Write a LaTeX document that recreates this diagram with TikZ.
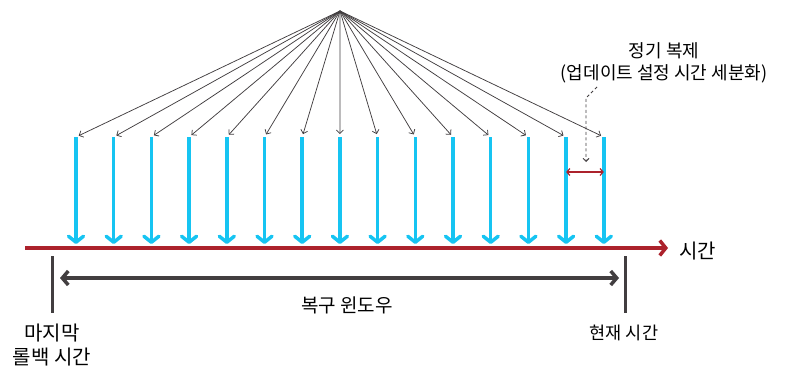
\documentclass[tikz,border=0pt]{standalone}
\usepackage{fontspec}
\setmainfont{Noto Sans CJK KR}
\usetikzlibrary{arrows.meta}
\definecolor{skyblue}{RGB}{22,196,242}
\definecolor{axisred}{RGB}{172,34,44}
\definecolor{inkgray}{RGB}{66,62,64}

\begin{document}
\begin{tikzpicture}[x=1pt,y=-1pt,
  fan/.style={draw=inkgray, line width=0.75pt, shorten >=3pt, -{Straight Barb[length=3.5pt,width=7pt]}},
  push/.style={draw=skyblue, line width=3.5pt, -{Straight Barb[length=6pt,width=15pt,round]}},
  lbl/.style={inner sep=0pt, align=center, font=\fontsize{17.5}{22}\selectfont}]
  \useasboundingbox (0,0) rectangle (786,369);

  % source of the periodic copies
  \coordinate (src) at (340,11);
  \foreach \i in {1,...,15}{
    \coordinate (top\i) at ({76+37.7*(\i-1)},137);
    \coordinate (bot\i) at ({76+37.7*(\i-1)},244);
    \draw[fan] (src) -- (top\i);
    \draw[push] (top\i) -- (bot\i);
  }

  % time axis
  \coordinate (axL) at (25,248);
  \coordinate (axR) at (668,248);
  \draw[axisred, line width=3.5pt, -{Straight Barb[length=6pt,width=15pt]}] (axL) -- (axR);
  \node[lbl, font=\fontsize{20}{22}\selectfont, anchor=west] (tlbl) at (679,251) {시간};

  % recovery window
  \draw[inkgray, line width=3pt] (52,256) -- (52,313) coordinate (lastT);
  \draw[inkgray, line width=3pt] (625,256) -- (625,313) coordinate (nowT);
  \coordinate (winL) at (60,278);
  \coordinate (winR) at (619,278);
  \draw[inkgray, line width=3.5pt, {Straight Barb[length=6pt,width=14pt]}-{Straight Barb[length=6pt,width=14pt]}] (winL) -- (winR);
  \node[lbl, font=\fontsize{19}{22}\selectfont] (win) at (347,305) {복구 윈도우};
  \node[lbl, font=\fontsize{20}{23.5}\selectfont] (last) at (52,345) {마지막\\롤백 시간};
  \node[lbl] (now) at (624,333) {현재 시간};

  % granularity note
  \node[lbl, font=\fontsize{18}{21.5}\selectfont] (note) at (664,63) {정기 복제\\(업데이트 설정 시간 세분화)};
  \coordinate (noteS) at (597,87);
  \coordinate (noteB) at (586,98);
  \coordinate (noteE) at (586,162);
  \draw[inkgray, line width=0.9pt, dash pattern=on 3pt off 2.5pt, -{Straight Barb[length=3pt,width=6pt]}] (noteS) -- (noteB) -- (noteE);
  \draw[axisred, line width=1.2pt, {Straight Barb[length=3pt,width=7pt]}-{Straight Barb[length=3pt,width=7pt]}] (bot14 |- 0,172) -- (bot15 |- 0,172);
\end{tikzpicture}
\end{document}
